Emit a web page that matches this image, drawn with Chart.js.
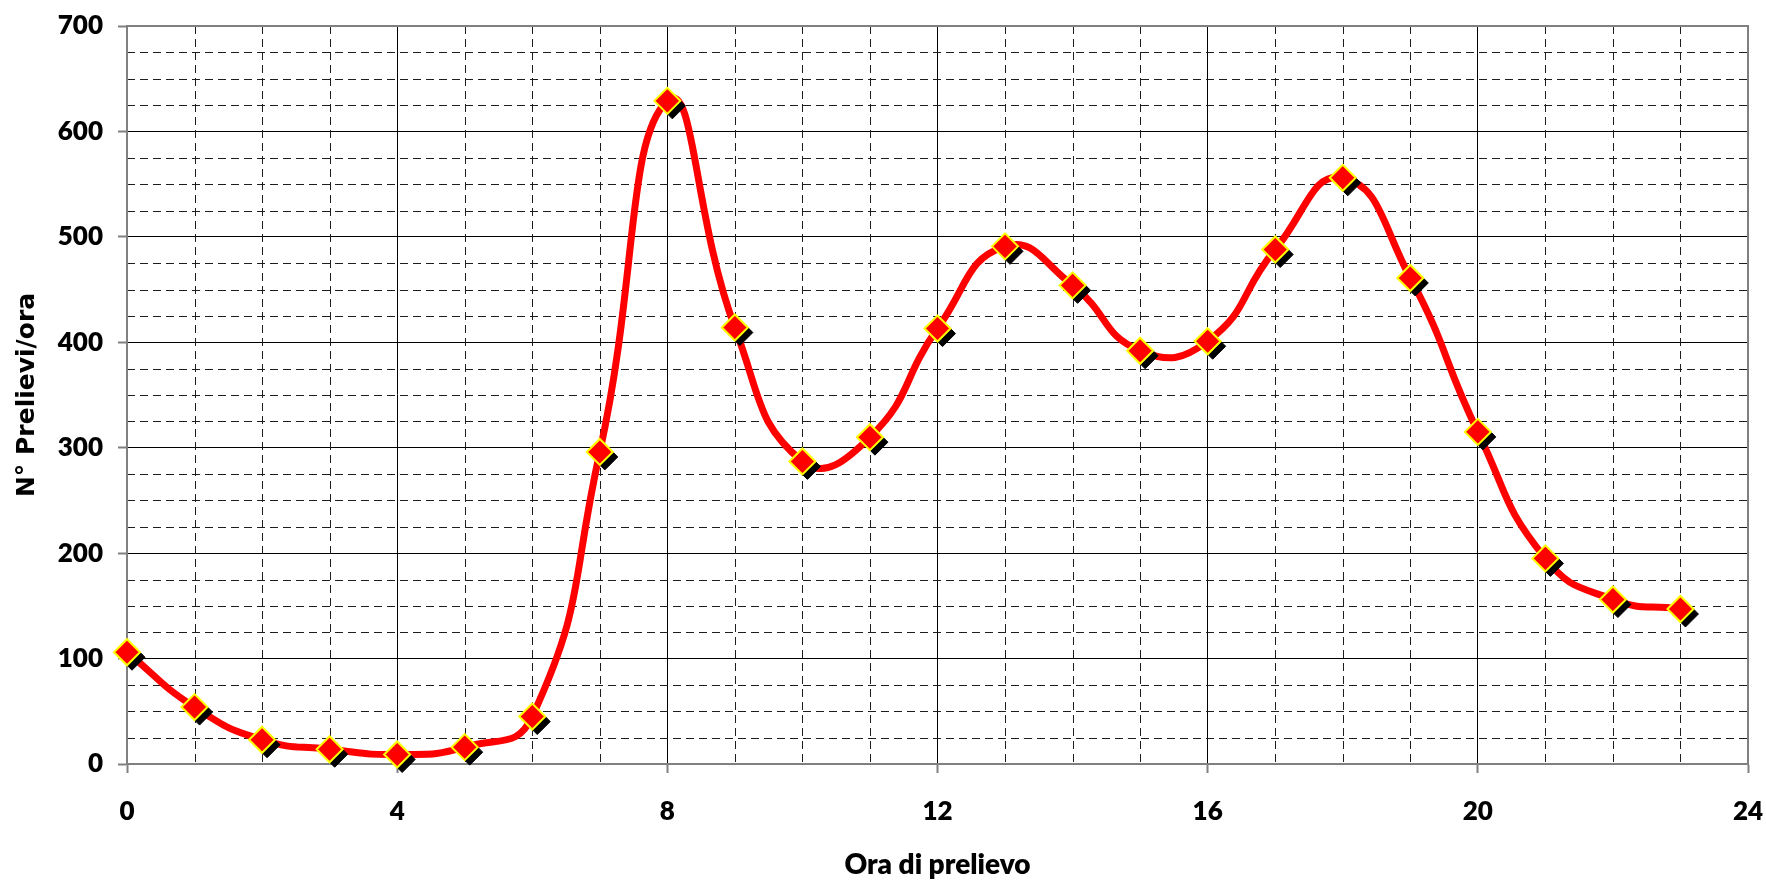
<!DOCTYPE html>
<html>
<head>
<meta charset="utf-8">
<script src="https://cdn.jsdelivr.net/npm/chart.js@4.4.1/dist/chart.umd.min.js"></script>
<style>
  html, body { margin: 0; padding: 0; background: #ffffff; }
  #wrap { width: 1766px; height: 880px; }
</style>
</head>
<body>
<div id="wrap"><canvas id="c" width="1766" height="880"></canvas></div>
<script>
// Hourly number of withdrawals (N° prelievi per ora)
const hours = [0, 1, 2, 3, 4, 5, 6, 7, 8, 9, 10, 11, 12, 13, 14, 15, 16, 17, 18, 19, 20, 21, 22, 23];
const prelievi = [106, 54, 23, 14, 9, 16, 45, 296, 629, 414, 287, 310, 413, 491, 454, 392, 401, 488, 556, 461, 315, 195, 156, 147];

// Axis ticks
const xTicks = [0, 4, 8, 12, 16, 20, 24];
const yTicks = [0, 100, 200, 300, 400, 500, 600, 700];
const xMinorStep = 1;
const yMinorStep = 25;

const points = hours.map((h, i) => ({ x: h, y: prelievi[i] }));

// Dashed minor grid plus the grey plot-area frame
const minorGrid = {
  id: 'minorGrid',
  beforeDatasetsDraw(chart) {
    const { ctx, chartArea: a, scales: { x, y } } = chart;
    ctx.save();
    ctx.strokeStyle = '#1e1e1e';
    ctx.lineWidth = 1;
    ctx.setLineDash([8, 5]);
    for (let h = x.min; h <= x.max; h += xMinorStep) {
      if (xTicks.includes(h)) continue;
      const px = Math.round(x.getPixelForValue(h)) + 0.5;
      ctx.beginPath(); ctx.moveTo(px, a.top); ctx.lineTo(px, a.bottom); ctx.stroke();
    }
    for (let v = y.min; v <= y.max; v += yMinorStep) {
      if (yTicks.includes(v)) continue;
      const py = Math.round(y.getPixelForValue(v)) + 0.5;
      ctx.beginPath(); ctx.moveTo(a.left, py); ctx.lineTo(a.right, py); ctx.stroke();
    }
    ctx.setLineDash([]);
    ctx.strokeStyle = '#808080';
    ctx.lineWidth = 2;
    ctx.strokeRect(a.left, a.top, a.right - a.left, a.bottom - a.top);
    ctx.restore();
  }
};

// Offsets the black marker copy to act as a drop shadow
const markerShadow = {
  id: 'markerShadow',
  beforeDatasetDraw(chart, args) {
    if (args.index === 1) { chart.ctx.save(); chart.ctx.translate(5, 5); }
  },
  afterDatasetDraw(chart, args) {
    if (args.index === 1) chart.ctx.restore();
  }
};

const tickFont = { family: 'Lato', size: 26, weight: 800 };

new Chart(document.getElementById('c'), {
  type: 'line',
  data: {
    datasets: [
      {
        label: 'markers',
        data: points,
        showLine: false,
        pointStyle: 'rectRot',
        pointRadius: 13,
        pointBackgroundColor: '#ff0000',
        pointBorderColor: '#ffff00',
        pointBorderWidth: 2,
        clip: false
      },
      {
        label: 'shadow',
        data: points,
        showLine: false,
        pointStyle: 'rectRot',
        pointRadius: 13,
        pointBackgroundColor: '#000000',
        pointBorderColor: '#000000',
        pointBorderWidth: 1,
        clip: false
      },
      {
        label: 'N° Prelievi/ora',
        data: points,
        borderColor: '#ff0000',
        borderWidth: 7,
        pointRadius: 0,
        tension: 0.5,
        cubicInterpolationMode: 'default',
        fill: false,
        clip: false
      }
    ]
  },
  options: {
    responsive: false,
    animation: false,
    events: [],
    layout: { autoPadding: false, padding: { top: 26, right: 18, left: 0, bottom: 0 } },
    plugins: { legend: { display: false }, tooltip: { enabled: false } },
    scales: {
      x: {
        type: 'linear',
        min: 0,
        max: 24,
        afterBuildTicks(scale) { scale.ticks = xTicks.map(v => ({ value: v })); },
        afterFit(scale) {
          scale.height = 116;
          scale.paddingLeft = 0;
          scale.paddingRight = 0;
        },
        grid: { color: '#000000', lineWidth: 1, tickLength: 9, tickColor: '#808080', tickWidth: 2 },
        border: { display: true, color: '#808080', width: 2 },
        ticks: { font: tickFont, color: '#000000', padding: 23, maxRotation: 0, autoSkip: false },
        title: {
          display: true,
          text: 'Ora di prelievo',
          color: '#000000',
          font: { family: 'Lato', size: 28, weight: 800, lineHeight: 1.1 },
          padding: { top: 0, bottom: 0 }
        }
      },
      y: {
        type: 'linear',
        min: 0,
        max: 700,
        afterBuildTicks(scale) { scale.ticks = yTicks.map(v => ({ value: v })); },
        afterFit(scale) {
          scale.width = 127;
          scale.paddingTop = 0;
          scale.paddingBottom = 0;
        },
        grid: { color: '#000000', lineWidth: 1, tickLength: 9, tickColor: '#808080', tickWidth: 2 },
        border: { display: true, color: '#808080', width: 2 },
        ticks: { font: tickFont, color: '#000000', padding: 15 },
        title: {
          display: true,
          text: 'N° Prelievi/ora',
          color: '#000000',
          font: { family: 'DejaVu Sans', size: 25, weight: 'bold', lineHeight: 1.2 },
          padding: { top: 12, bottom: 0 }
        }
      }
    }
  },
  plugins: [minorGrid, markerShadow]
});
</script>
</body>
</html>
